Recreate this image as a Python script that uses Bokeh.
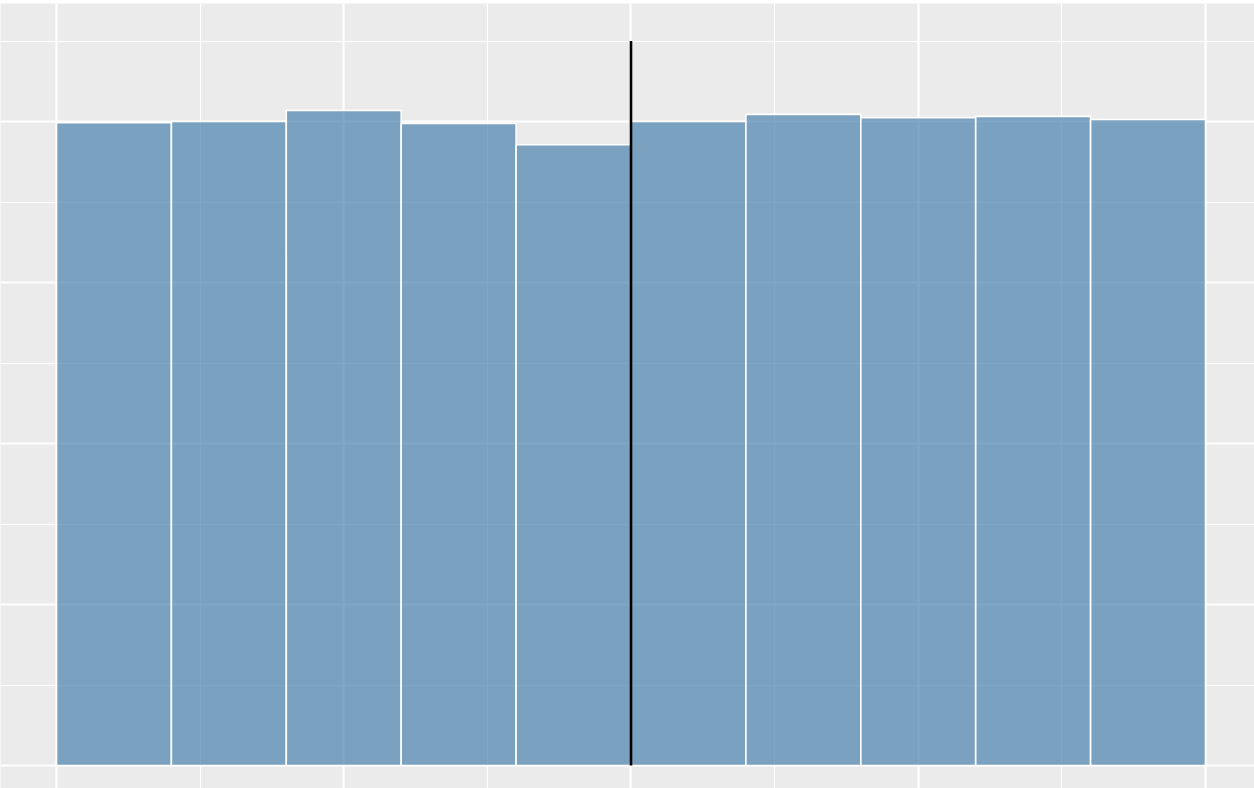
from bokeh.plotting import figure
from bokeh.models import Range1d, Grid, FixedTicker
from bokeh.embed import file_html
from bokeh.resources import INLINE

# Histogram data (density per bin)
bin_left = [0.0, 0.1, 0.2, 0.3, 0.4, 0.5, 0.6, 0.7, 0.8, 0.9]
bin_right = [0.1, 0.2, 0.3, 0.4, 0.5, 0.6, 0.7, 0.8, 0.9, 1.0]
density = [0.998, 1.000, 1.017, 0.997, 0.964, 1.000, 1.011, 1.006, 1.008, 1.003]

# Reference line
vline_x = [0.5]
vline_bottom = [0.0]
vline_top = [1.125]

# Grid breaks
x_major = [0.0, 0.25, 0.5, 0.75, 1.0]
x_minor = [0.125, 0.375, 0.625, 0.875]
y_major = [0.0, 0.25, 0.5, 0.75, 1.0]
y_minor = [0.125, 0.375, 0.625, 0.875, 1.125]

W, H = 1254, 788
p = figure(width=W, height=H, output_backend="svg", toolbar_location=None,
           x_axis_location=None, y_axis_location=None,
           x_range=Range1d(-0.04874, 1.04265), y_range=Range1d(-0.03571, 1.18323),
           min_border=0, min_border_top=3,
           background_fill_color="#EBEBEB", border_fill_color="white",
           outline_line_color=None)
p.grid.visible = False

for ticks, dim, lw in [(x_minor, 0, 1.1), (y_minor, 1, 1.1), (x_major, 0, 2.2), (y_major, 1, 2.2)]:
    g = Grid(dimension=dim, ticker=FixedTicker(ticks=ticks),
             grid_line_color="white", grid_line_width=lw)
    p.add_layout(g)

p.quad(left=bin_left, right=bin_right, bottom=0, top=density,
       fill_color="#4B81AE", fill_alpha=0.7, line_color="white", line_width=1.6)

p.segment(x0=vline_x, y0=vline_bottom, x1=vline_x, y1=vline_top,
          line_color="black", line_width=2.6)

open("out.html", "w").write(file_html(p, INLINE))
